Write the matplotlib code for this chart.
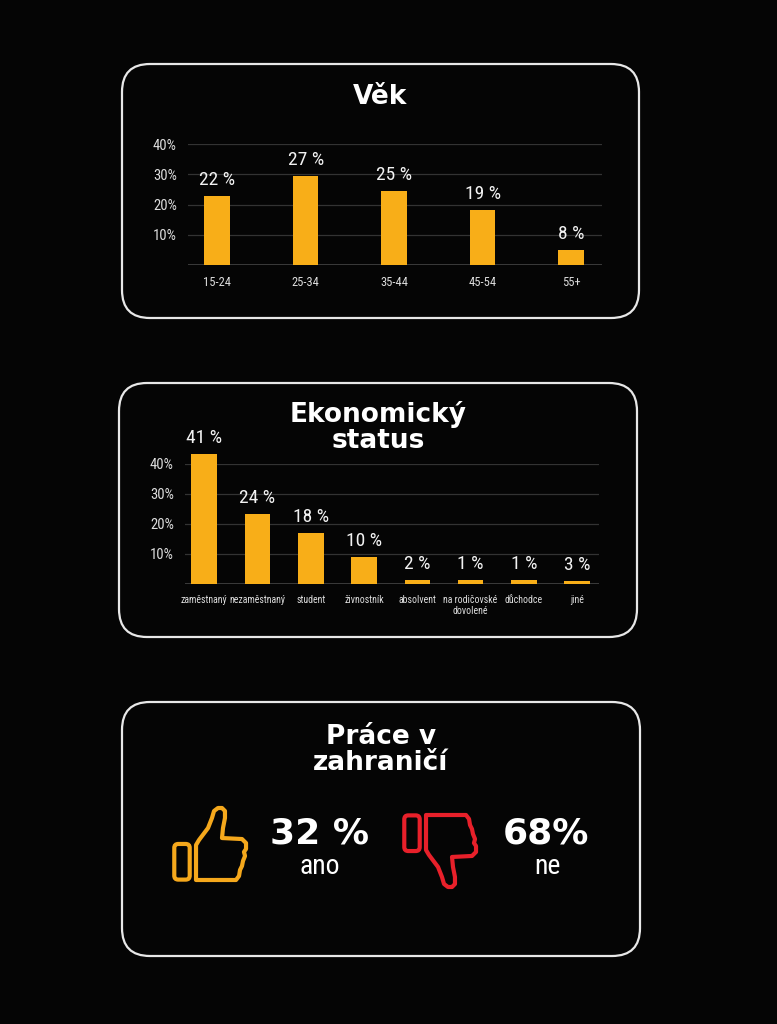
import matplotlib.pyplot as plt
import numpy as np
from matplotlib import font_manager as fm
from matplotlib.patches import FancyBboxPatch, PathPatch
from matplotlib.path import Path

# data
vek_kategorie = ['15-24', '25-34', '35-44', '45-54', '55+']
vek_vysky = [22.8, 29.6, 24.5, 18.1, 5.1]          # drawn bar heights
vek_popisky = ['22 %', '27 %', '25 %', '19 %', '8 %']

status_kategorie = ['zaměstnaný', 'nezaměstnaný', 'student', 'živnostník',
                    'absolvent', 'na rodičovské\ndovolené', 'důchodce', 'jiné']
status_vysky = [43.1, 23.2, 17.0, 8.9, 1.3, 1.3, 1.3, 0.9]
status_popisky = ['41 %', '24 %', '18 %', '10 %', '2 %', '1 %', '1 %', '3 %']

prace_hodnoty = ['32 %', '68%']
prace_popisky = ['ano', 'ne']

W, H = 777, 1024
BG = '#050505'
ORANZ = '#F8AE18'
CERV = '#E8202A'
TITLE = ['DejaVu Sans']

# pick a narrow font if one is installed
fonty = fm.fontManager.ttflist
jmena = {f.name for f in fonty}
NSTRETCH = 'normal'
NSCALE = 1.0
if 'Liberation Sans Narrow' in jmena:
    NARROW = ['Liberation Sans Narrow', 'DejaVu Sans']
elif 'Roboto Condensed' in jmena:
    NARROW = ['Roboto Condensed', 'DejaVu Sans']
elif any(f.name == 'DejaVu Sans' and f.stretch == 'condensed' for f in fonty):
    NARROW = ['DejaVu Sans']
    NSTRETCH = 'condensed'
    NSCALE = 0.92
else:
    NARROW = ['Roboto', 'DejaVu Sans']
    NSCALE = 0.9

fig = plt.figure(figsize=(W / 100, H / 100), dpi=100, facecolor=BG)

# overlay in pixel coordinates
bg = fig.add_axes([0, 0, 1, 1], zorder=0)
bg.set_xlim(0, W)
bg.set_ylim(H, 0)
bg.axis('off')
bg.set_facecolor(BG)


def panel(x0, y0, x1, y1):
    p = FancyBboxPatch((x0, y0), x1 - x0, y1 - y0,
                       boxstyle='round,pad=0,rounding_size=28',
                       fc=BG, ec='#E8E8E8', lw=1.6)
    bg.add_patch(p)


panel(122, 64, 639, 318)
panel(119, 383, 637, 637)
panel(122, 702, 640, 956)

bg.text(380, 97, 'Věk', color='white', fontsize=19, fontweight='bold',
        family=TITLE, ha='center', va='center')
bg.text(378, 427, 'Ekonomický\nstatus', color='white', fontsize=19,
        fontweight='bold', family=TITLE, ha='center', va='center',
        linespacing=1.0)
bg.text(381, 750, 'Práce v\nzahraničí', color='white', fontsize=19,
        fontweight='bold', family=TITLE, ha='center', va='center',
        linespacing=1.05)


def bar_axes(left, right, base, top, kategorie, vysky, popisky, sirka,
             xlim, xfont):
    ax = fig.add_axes([left / W, 1 - base / H, (right - left) / W,
                       (base - top) / H], zorder=2)
    ax.set_facecolor('none')
    x = np.arange(len(kategorie))
    ax.bar(x, vysky, width=sirka, color=ORANZ, clip_on=False, zorder=3)
    for xi, v, t in zip(x, vysky, popisky):
        ax.annotate(t, (xi, v), xytext=(0, 5), textcoords='offset points',
                    ha='center', va='bottom', color='#F2F2F2',
                    fontsize=14 * NSCALE, family=NARROW, stretch=NSTRETCH,
                    annotation_clip=False)
    ax.set_ylim(0, 40)
    ax.set_xlim(*xlim)
    ax.set_yticks([10, 20, 30, 40])
    ax.set_yticklabels(['10%', '20%', '30%', '40%'], family=NARROW,
                       stretch=NSTRETCH, fontsize=10.5 * NSCALE,
                       color='#DDDDDD')
    ax.set_xticks(x)
    ax.set_xticklabels(kategorie, family=NARROW, stretch=NSTRETCH,
                       fontsize=xfont * NSCALE, color='#DDDDDD',
                       linespacing=1.1)
    ax.tick_params(length=0, axis='y', pad=8)
    ax.tick_params(length=0, axis='x', pad=8)
    for s in ax.spines.values():
        s.set_visible(False)
    ax.grid(axis='y', color='#333333', lw=0.9)
    ax.axhline(0, color='#4A4A4A', lw=1.1, zorder=2)
    ax.set_axisbelow(True)
    return ax


bar_axes(188, 602, 265, 144.3, vek_kategorie, vek_vysky, vek_popisky,
         0.29, (-0.33, 4.35), 9)
bar_axes(185, 599, 584, 463.7, status_kategorie, status_vysky,
         status_popisky, 0.48, (-0.36, 7.41), 7.1)

# thumb icon outline in a local unit box, v measured from the bottom
ruka = [(0.316, 0.052), (0.316, 0.506), (0.355, 0.571), (0.474, 0.727),
        (0.526, 0.857), (0.553, 0.948), (0.605, 0.987), (0.658, 0.987),
        (0.697, 0.948), (0.697, 0.857), (0.671, 0.727), (0.658, 0.597),
        (0.921, 0.584), (0.974, 0.532), (0.974, 0.455), (0.947, 0.416),
        (0.961, 0.364), (0.934, 0.299), (0.921, 0.234), (0.895, 0.182),
        (0.882, 0.104), (0.842, 0.052), (0.316, 0.052)]


def palec(x0, top, w, h, barva, dolu=False):
    def tr(u, v):
        if dolu:
            v = 1 - v
        return (x0 + u * w, top + (1 - v) * h)
    pts = [tr(u, v) for u, v in ruka]
    bg.add_patch(PathPatch(Path(pts, closed=True), fc='none', ec=barva,
                           lw=3, joinstyle='round'))
    c0 = tr(0.03, 0.52)
    c1 = tr(0.233, 0.057)
    ya, yb = sorted([c0[1], c1[1]])
    bg.add_patch(FancyBboxPatch((c0[0], ya), c1[0] - c0[0], yb - ya,
                                boxstyle='round,pad=0,rounding_size=4',
                                fc='none', ec=barva, lw=3))


palec(172, 807, 76, 77, '#F5A81C')
palec(402, 811, 76, 77, CERV, dolu=True)

for xc, hod, pop in zip([319, 546], prace_hodnoty, prace_popisky):
    bg.text(xc, 834, hod, color='white', fontsize=26, fontweight='bold',
            family=TITLE, ha='center', va='center')
    bg.text(xc + 1, 866, pop, color='white', fontsize=20 * NSCALE,
            family=NARROW, stretch=NSTRETCH, ha='center', va='center')

fig.savefig('out.png', dpi=100, facecolor=BG)
